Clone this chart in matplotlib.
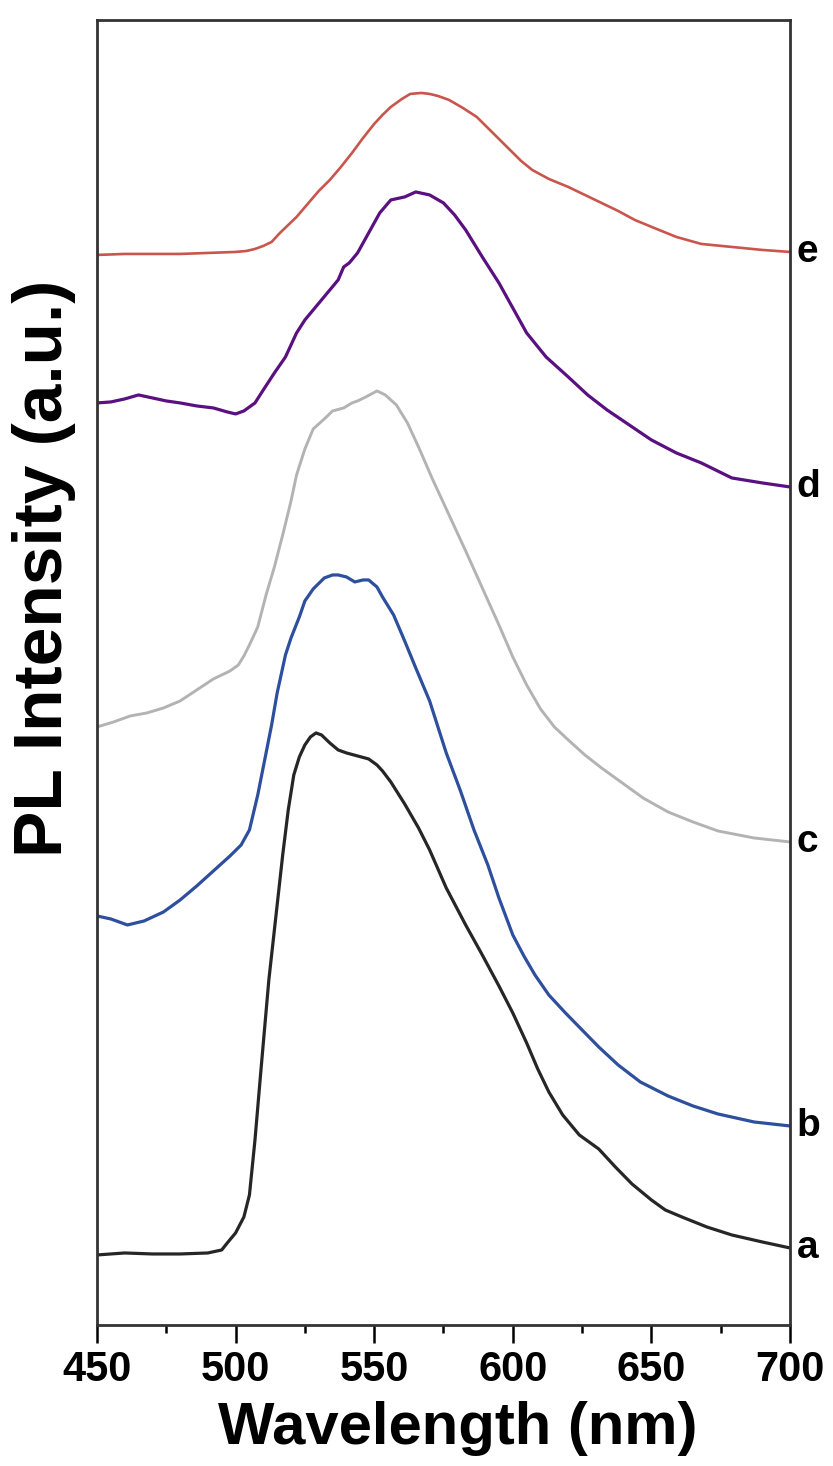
import matplotlib
matplotlib.use("Agg")
import matplotlib.pyplot as plt
from matplotlib.ticker import MultipleLocator

plt.rcParams['font.family'] = ['Liberation Sans', 'DejaVu Sans']
plt.rcParams['font.weight'] = 'bold'

# PL spectra (wavelength in nm, intensity in a.u., stacked)
wl_a = [450, 460, 470, 480, 490, 495, 497, 500, 503, 505, 507, 509, 512, 515, 517, 519, 521, 523, 525,
        527, 529, 531, 534, 537, 540, 544, 548, 551, 553, 556, 561, 566, 570, 576, 583, 589, 595, 600,
        605, 609, 613, 618, 624, 631, 637, 643, 650, 655, 661, 670, 679, 690, 700]
pl_a = [70, 72, 71, 71, 72, 75, 82, 92, 108, 130, 185, 250, 345, 420, 470, 515, 550, 568, 580,
        588, 592, 590, 582, 575, 572, 569, 566, 560, 554, 543, 521, 497, 475, 437, 400, 370, 339, 312,
        282, 256, 233, 210, 190, 176, 158, 141, 125, 115, 108, 98, 90, 83, 77]

wl_b = [450, 455, 461, 467, 474, 480, 486, 492, 498, 502, 505, 508, 510, 513, 515, 518, 520, 523, 525,
        528, 532, 535, 537, 540, 543, 546, 548, 551, 553, 557, 561, 565, 570, 576, 581, 586, 591, 595,
        600, 604, 608, 613, 619, 625, 631, 638, 646, 656, 665, 674, 687, 700]
pl_b = [409, 406, 400, 404, 413, 425, 439, 454, 469, 480, 495, 530, 558, 600, 632, 670, 687, 708, 724,
        736, 747, 750, 750, 748, 743, 745, 745, 738, 728, 710, 684, 657, 624, 572, 535, 495, 460, 427,
        390, 369, 350, 330, 312, 295, 278, 260, 243, 229, 219, 211, 203, 199]

wl_c = [450, 456, 462, 468, 474, 480, 486, 492, 498, 501, 503, 505, 508, 511, 514, 517, 520, 522, 525,
        528, 532, 535, 539, 542, 544, 547, 551, 554, 558, 562, 566, 571, 577, 583, 589, 595, 600, 605,
        610, 615, 620, 626, 632, 638, 647, 656, 665, 674, 687, 700]
pl_c = [598, 603, 609, 612, 617, 624, 635, 646, 654, 660, 669, 680, 698, 730, 758, 790, 824, 850, 876,
        896, 906, 914, 917, 922, 924, 928, 934, 930, 920, 902, 878, 846, 810, 774, 737, 700, 668, 640,
        616, 598, 585, 570, 557, 545, 527, 513, 503, 494, 487, 483]

wl_d = [450, 455, 460, 465, 470, 475, 480, 486, 492, 497, 500, 503, 507, 510, 514, 518, 522, 525, 528,
        531, 534, 537, 539, 541, 544, 546, 549, 552, 556, 561, 565, 570, 575, 579, 583, 589, 595, 600,
        605, 612, 620, 627, 634, 642, 650, 659, 668, 679, 690, 700]
pl_d = [922, 923, 926, 930, 927, 924, 922, 919, 917, 913, 911, 914, 922, 935, 952, 968, 992, 1005, 1015,
        1025, 1035, 1045, 1058, 1062, 1072, 1082, 1097, 1112, 1125, 1128, 1133, 1130, 1122, 1110, 1095,
        1068, 1042, 1017, 992, 968, 948, 930, 915, 900, 885, 872, 862, 847, 842, 838]

wl_e = [450, 460, 470, 480, 490, 500, 504, 507, 510, 513, 516, 519, 522, 526, 530, 534, 538, 542, 546,
        550, 553, 556, 560, 563, 567, 570, 573, 577, 582, 587, 591, 595, 599, 603, 607, 613, 620, 626,
        632, 638, 644, 651, 659, 668, 679, 690, 700]
pl_e = [1070, 1071, 1071, 1071, 1072, 1073, 1074, 1076, 1079, 1083, 1092, 1100, 1108, 1121, 1134, 1145,
        1158, 1172, 1187, 1201, 1210, 1218, 1226, 1231, 1232, 1231, 1229, 1225, 1217, 1208, 1197, 1186,
        1175, 1164, 1155, 1146, 1138, 1130, 1122, 1114, 1105, 1097, 1088, 1081, 1078, 1075, 1073]

labels = ['a', 'b', 'c', 'd', 'e']
colors = ['#262626', '#2d4f9e', '#b3b3b3', '#5a1080', '#c9554c']
widths = [2.3, 2.3, 2.1, 2.3, 1.9]
series = [(wl_a, pl_a), (wl_b, pl_b), (wl_c, pl_c), (wl_d, pl_d), (wl_e, pl_e)]

fig = plt.figure(figsize=(8.33, 14.66), dpi=100)
ax = fig.add_axes([0.1164, 0.0962, 0.832, 0.8902])

for (wl, pl), lab, col, lw in zip(series, labels, colors, widths):
    ax.plot(wl, pl, color=col, lw=lw)
    ax.text(702.3, pl[-1], lab, fontsize=28, fontweight='bold', va='center', ha='left',
            clip_on=False)

ax.set_xlim(450, 700)
ax.set_ylim(0, 1305)
ax.xaxis.set_major_locator(MultipleLocator(50))
ax.xaxis.set_minor_locator(MultipleLocator(25))
ax.set_yticks([])
ax.tick_params(axis='x', which='major', direction='out', length=13, width=1.8,
               labelsize=30, pad=5, top=False)
ax.tick_params(axis='x', which='minor', direction='out', length=6, width=1.8, top=False)
for sp in ax.spines.values():
    sp.set_linewidth(2)
    sp.set_color('#333333')

ax.set_xlabel('Wavelength (nm)', fontsize=43, fontweight='bold')
ax.set_ylabel('PL Intensity (a.u.)', fontsize=50, fontweight='bold')
ax.xaxis.set_label_coords(0.52, -0.058)
ax.yaxis.set_label_coords(-0.03, 0.58)

fig.savefig('out.png', dpi=100)
